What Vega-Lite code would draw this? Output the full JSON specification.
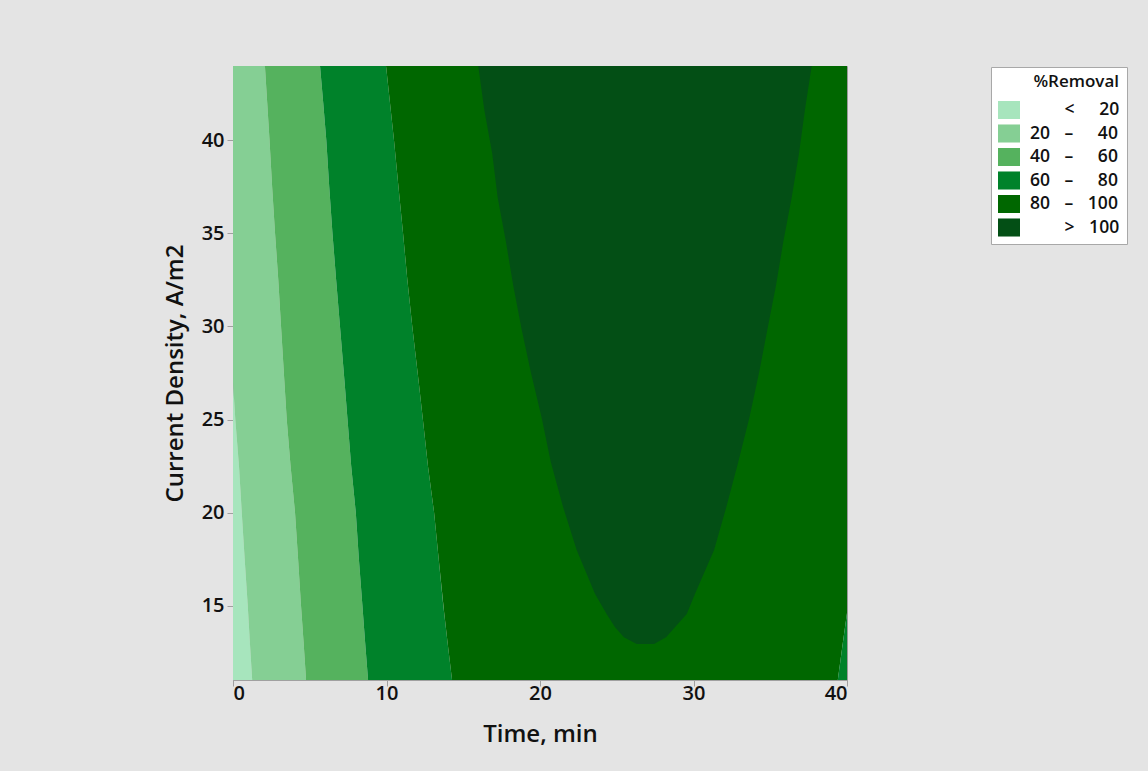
{
  "$schema": "https://vega.github.io/schema/vega-lite/v6.json",
  "autosize": {"type": "none"},
  "width": 614,
  "height": 614,
  "padding": {"left": 233, "top": 66, "right": 301, "bottom": 91},
  "background": "#e4e4e4",
  "config": {
    "view": {"stroke": "#9a9a9a", "strokeWidth": 1},
    "axis": {
      "labelFont": "Open Sans", "labelFontWeight": 600, "labelFontSize": 20, "labelColor": "#111111",
      "titleFont": "Open Sans", "titleFontWeight": 600, "titleFontSize": 24, "titleColor": "#111111",
      "domainColor": "#a0a0a0", "tickColor": "#a0a0a0", "tickSize": 6, "grid": false
    },
    "legend": {
      "orient": "none", "legendX": 758, "legendY": 1,
      "fillColor": "#ffffff", "strokeColor": "#a8a8a8", "padding": 7,
      "labelFont": "Open Sans", "labelFontWeight": 600, "labelFontSize": 17.5, "labelColor": "#111111",
      "titleFont": "Open Sans", "titleFontWeight": 600, "titleFontSize": 17, "titleColor": "#111111",
      "titleAnchor": "end", "titlePadding": 8, "rowPadding": 2.5, "labelOffset": 10,
      "symbolType": "M-1,-0.82H1V0.82H-1Z", "symbolSize": 484, "symbolStrokeWidth": 0, "symbolOpacity": 1
    }
  },
  "data": {"values": [
    {"band": "< 20", "piece": "p1", "y": 11, "x1": 0, "x2": 1.25},
    {"band": "< 20", "piece": "p1", "y": 13, "x1": 0, "x2": 1.1},
    {"band": "< 20", "piece": "p1", "y": 15, "x1": 0, "x2": 0.96},
    {"band": "< 20", "piece": "p1", "y": 17.5, "x1": 0, "x2": 0.76},
    {"band": "< 20", "piece": "p1", "y": 20, "x1": 0, "x2": 0.57},
    {"band": "< 20", "piece": "p1", "y": 22.5, "x1": 0, "x2": 0.39},
    {"band": "< 20", "piece": "p1", "y": 25, "x1": 0, "x2": 0.15},
    {"band": "< 20", "piece": "p1", "y": 27, "x1": 0, "x2": 0},

    {"band": "20 – 40", "piece": "p2", "y": 11, "x1": 1.25, "x2": 4.76},
    {"band": "20 – 40", "piece": "p2", "y": 13, "x1": 1.1, "x2": 4.6},
    {"band": "20 – 40", "piece": "p2", "y": 15, "x1": 0.96, "x2": 4.43},
    {"band": "20 – 40", "piece": "p2", "y": 17.5, "x1": 0.76, "x2": 4.24},
    {"band": "20 – 40", "piece": "p2", "y": 20, "x1": 0.57, "x2": 4.04},
    {"band": "20 – 40", "piece": "p2", "y": 22.5, "x1": 0.39, "x2": 3.75},
    {"band": "20 – 40", "piece": "p2", "y": 25, "x1": 0.15, "x2": 3.5},
    {"band": "20 – 40", "piece": "p2", "y": 27, "x1": 0, "x2": 3.35},
    {"band": "20 – 40", "piece": "p2", "y": 30, "x1": 0, "x2": 3.13},
    {"band": "20 – 40", "piece": "p2", "y": 32.5, "x1": 0, "x2": 2.95},
    {"band": "20 – 40", "piece": "p2", "y": 35, "x1": 0, "x2": 2.74},
    {"band": "20 – 40", "piece": "p2", "y": 37.5, "x1": 0, "x2": 2.55},
    {"band": "20 – 40", "piece": "p2", "y": 40, "x1": 0, "x2": 2.38},
    {"band": "20 – 40", "piece": "p2", "y": 42, "x1": 0, "x2": 2.23},
    {"band": "20 – 40", "piece": "p2", "y": 44, "x1": 0, "x2": 2.08},

    {"band": "40 – 60", "piece": "p3", "y": 11, "x1": 4.76, "x2": 8.8},
    {"band": "40 – 60", "piece": "p3", "y": 13, "x1": 4.6, "x2": 8.61},
    {"band": "40 – 60", "piece": "p3", "y": 15, "x1": 4.43, "x2": 8.43},
    {"band": "40 – 60", "piece": "p3", "y": 17.5, "x1": 4.24, "x2": 8.2},
    {"band": "40 – 60", "piece": "p3", "y": 20, "x1": 4.04, "x2": 8.0},
    {"band": "40 – 60", "piece": "p3", "y": 22.5, "x1": 3.75, "x2": 7.7},
    {"band": "40 – 60", "piece": "p3", "y": 25, "x1": 3.5, "x2": 7.46},
    {"band": "40 – 60", "piece": "p3", "y": 27, "x1": 3.35, "x2": 7.27},
    {"band": "40 – 60", "piece": "p3", "y": 30, "x1": 3.13, "x2": 6.97},
    {"band": "40 – 60", "piece": "p3", "y": 32.5, "x1": 2.95, "x2": 6.72},
    {"band": "40 – 60", "piece": "p3", "y": 35, "x1": 2.74, "x2": 6.48},
    {"band": "40 – 60", "piece": "p3", "y": 37.5, "x1": 2.55, "x2": 6.27},
    {"band": "40 – 60", "piece": "p3", "y": 40, "x1": 2.38, "x2": 6.08},
    {"band": "40 – 60", "piece": "p3", "y": 42, "x1": 2.23, "x2": 5.88},
    {"band": "40 – 60", "piece": "p3", "y": 44, "x1": 2.08, "x2": 5.67},

    {"band": "60 – 80", "piece": "p4", "y": 11, "x1": 8.8, "x2": 14.27},
    {"band": "60 – 80", "piece": "p4", "y": 13, "x1": 8.61, "x2": 13.98},
    {"band": "60 – 80", "piece": "p4", "y": 15, "x1": 8.43, "x2": 13.7},
    {"band": "60 – 80", "piece": "p4", "y": 17.5, "x1": 8.2, "x2": 13.4},
    {"band": "60 – 80", "piece": "p4", "y": 20, "x1": 8.0, "x2": 13.1},
    {"band": "60 – 80", "piece": "p4", "y": 22.5, "x1": 7.7, "x2": 12.7},
    {"band": "60 – 80", "piece": "p4", "y": 25, "x1": 7.46, "x2": 12.37},
    {"band": "60 – 80", "piece": "p4", "y": 27, "x1": 7.27, "x2": 12.1},
    {"band": "60 – 80", "piece": "p4", "y": 30, "x1": 6.97, "x2": 11.68},
    {"band": "60 – 80", "piece": "p4", "y": 32.5, "x1": 6.72, "x2": 11.36},
    {"band": "60 – 80", "piece": "p4", "y": 35, "x1": 6.48, "x2": 11.08},
    {"band": "60 – 80", "piece": "p4", "y": 37.5, "x1": 6.27, "x2": 10.78},
    {"band": "60 – 80", "piece": "p4", "y": 40, "x1": 6.08, "x2": 10.49},
    {"band": "60 – 80", "piece": "p4", "y": 42, "x1": 5.88, "x2": 10.23},
    {"band": "60 – 80", "piece": "p4", "y": 44, "x1": 5.67, "x2": 9.97},

    {"band": "80 – 100", "piece": "p5", "y": 11, "x1": 14.27, "x2": 39.4},
    {"band": "80 – 100", "piece": "p5", "y": 13, "x1": 13.98, "x2": 39.73},
    {"band": "80 – 100", "piece": "p5", "y": 14.6, "x1": 13.76, "x2": 40},
    {"band": "80 – 100", "piece": "p5", "y": 17.5, "x1": 13.4, "x2": 40},
    {"band": "80 – 100", "piece": "p5", "y": 20, "x1": 13.1, "x2": 40},
    {"band": "80 – 100", "piece": "p5", "y": 22.5, "x1": 12.7, "x2": 40},
    {"band": "80 – 100", "piece": "p5", "y": 25, "x1": 12.37, "x2": 40},
    {"band": "80 – 100", "piece": "p5", "y": 27, "x1": 12.1, "x2": 40},
    {"band": "80 – 100", "piece": "p5", "y": 30, "x1": 11.68, "x2": 40},
    {"band": "80 – 100", "piece": "p5", "y": 32.5, "x1": 11.36, "x2": 40},
    {"band": "80 – 100", "piece": "p5", "y": 35, "x1": 11.08, "x2": 40},
    {"band": "80 – 100", "piece": "p5", "y": 37.5, "x1": 10.78, "x2": 40},
    {"band": "80 – 100", "piece": "p5", "y": 40, "x1": 10.49, "x2": 40},
    {"band": "80 – 100", "piece": "p5", "y": 42, "x1": 10.23, "x2": 40},
    {"band": "80 – 100", "piece": "p5", "y": 44, "x1": 9.97, "x2": 40},

    {"band": "60 – 80", "piece": "p6", "y": 11, "x1": 39.4, "x2": 40},
    {"band": "60 – 80", "piece": "p6", "y": 13, "x1": 39.73, "x2": 40},
    {"band": "60 – 80", "piece": "p6", "y": 14.6, "x1": 40, "x2": 40},

    {"band": "> 100", "piece": "p7", "y": 12.94, "x1": 26.3, "x2": 27.43},
    {"band": "> 100", "piece": "p7", "y": 13.3, "x1": 25.47, "x2": 28.21},
    {"band": "> 100", "piece": "p7", "y": 13.83, "x1": 24.89, "x2": 28.79},
    {"band": "> 100", "piece": "p7", "y": 14.55, "x1": 24.34, "x2": 29.56},
    {"band": "> 100", "piece": "p7", "y": 15.63, "x1": 23.58, "x2": 30.1},
    {"band": "> 100", "piece": "p7", "y": 17.99, "x1": 22.39, "x2": 31.34},
    {"band": "> 100", "piece": "p7", "y": 20.36, "x1": 21.48, "x2": 32.16},
    {"band": "> 100", "piece": "p7", "y": 22.73, "x1": 20.7, "x2": 32.92},
    {"band": "> 100", "piece": "p7", "y": 25.09, "x1": 20.11, "x2": 33.64},
    {"band": "> 100", "piece": "p7", "y": 27.55, "x1": 19.4, "x2": 34.28},
    {"band": "> 100", "piece": "p7", "y": 29.82, "x1": 18.81, "x2": 34.81},
    {"band": "> 100", "piece": "p7", "y": 32.19, "x1": 18.26, "x2": 35.37},
    {"band": "> 100", "piece": "p7", "y": 34.55, "x1": 17.78, "x2": 35.85},
    {"band": "> 100", "piece": "p7", "y": 36.94, "x1": 17.24, "x2": 36.4},
    {"band": "> 100", "piece": "p7", "y": 39.28, "x1": 16.89, "x2": 36.87},
    {"band": "> 100", "piece": "p7", "y": 41.65, "x1": 16.37, "x2": 37.26},
    {"band": "> 100", "piece": "p7", "y": 44, "x1": 15.98, "x2": 37.7}
  ]},
  "encoding": {
    "y": {"field": "y", "type": "quantitative", "title": "Current Density, A/m2",
      "scale": {"domain": [11, 44], "nice": false, "zero": false},
      "axis": {"values": [15, 20, 25, 30, 35, 40], "titlePadding": 14, "labelPadding": 3}},
    "x": {"field": "x1", "type": "quantitative", "title": "Time, min",
      "scale": {"domain": [0, 40], "nice": false, "zero": false},
      "axis": {"values": [0, 10, 20, 30, 40], "titlePadding": 19, "labelPadding": -3}},
    "x2": {"field": "x2"},
    "detail": {"field": "piece", "type": "nominal"},
    "color": {"field": "band", "type": "nominal", "title": "%Removal",
      "scale": {
        "domain": ["< 20", "20 – 40", "40 – 60", "60 – 80", "80 – 100", "> 100"],
        "range": ["#a7e5bd", "#85cf94", "#55b25e", "#00822a", "#006700", "#034f15"]
      },
      "legend": {
        "labelExpr": "datum.label == '< 20' ? '\u200b\u2007\u2007\u2007\u00a0<\u00a0\u2007\u200720' : datum.label == '20 – 40' ? '20\u2007\u00a0–\u00a0\u2007\u200740' : datum.label == '40 – 60' ? '40\u2007\u00a0–\u00a0\u2007\u200760' : datum.label == '60 – 80' ? '60\u2007\u00a0–\u00a0\u2007\u200780' : datum.label == '80 – 100' ? '80\u2007\u00a0–\u00a0\u2007100' : '\u200b\u2007\u2007\u2007\u00a0>\u00a0\u2007100'"
      }
    }
  },
  "layer": [
    {"transform": [{"filter": "datum.piece != 'p7'"}],
     "mark": {"type": "area", "orient": "horizontal", "clip": true, "opacity": 1}},
    {"transform": [{"filter": "datum.piece == 'p7'"}],
     "mark": {"type": "area", "orient": "horizontal", "clip": true, "opacity": 1}}
  ]
}
